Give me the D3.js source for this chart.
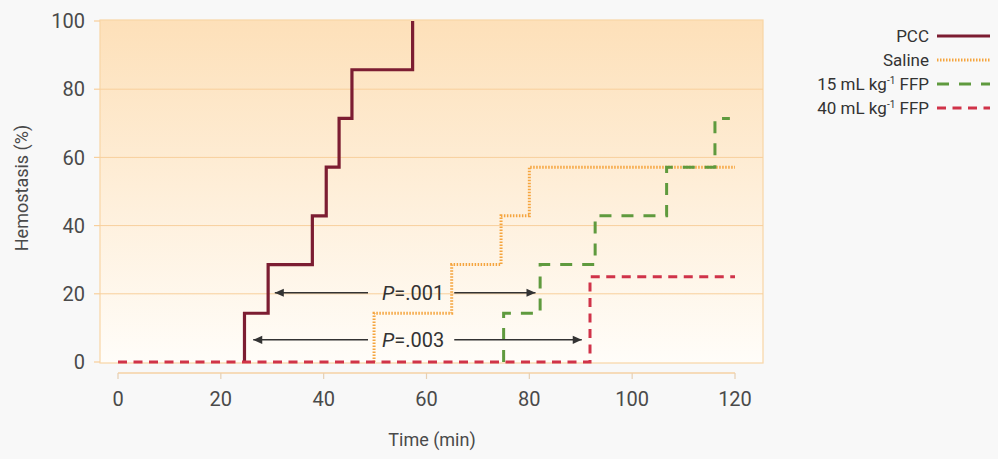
<!DOCTYPE html>
<html>
<head>
<meta charset="utf-8">
<script src="https://cdn.jsdelivr.net/npm/d3@7"></script>
<style>
	body { margin: 0; background: #f8f8f8; }
	svg { display: block; font-family: "Roboto", sans-serif; }
</style>
</head>
<body>
<svg width="998" height="459"></svg>
<script>
// step times (min) and hemostasis level (%) reached at each step
const pccTime = [24.6, 29.2, 37.8, 40.5, 43.0, 45.5, 57.3]
const pccLevel = [14.29, 28.57, 42.86, 57.14, 71.43, 85.71, 100]

const salineTime = [49.8, 64.9, 74.5, 80.0]
const salineLevel = [14.29, 28.57, 42.86, 57.14]
const salineEnd = 120

const ffp15Time = [75.0, 82.1, 92.8, 106.7, 116.1]
const ffp15Level = [14.29, 28.57, 42.86, 57.14, 71.43]
const ffp15End = 119

const ffp40Time = [91.8]
const ffp40Level = [25]
const ffp40End = 120

const xTicks = [0, 20, 40, 60, 80, 100, 120]
const yTicks = [0, 20, 40, 60, 80, 100]

// P-value arrows: label, level, left tip, right tip
const pLabels = ["=.001", "=.003"]
const pLevel = [20.3, 6.5]
const pFrom = [30.5, 26.3]
const pTo = [81.2, 90.2]
const pCenter = 57.4

const svg = d3.select("svg")

const x = d3.scaleLinear().domain([0, 120]).range([118, 735])
const y = d3.scaleLinear().domain([0, 100]).range([362, 21])

const defs = svg.append("defs")
const grad = defs.append("linearGradient")
	.attr("id", "bg").attr("x1", 0).attr("y1", 0).attr("x2", 0).attr("y2", 1)
grad.append("stop").attr("offset", "0%").attr("stop-color", "#fde0b9")
grad.append("stop").attr("offset", "100%").attr("stop-color", "#fffdf9")

defs.append("marker")
	.attr("id", "arrowhead")
	.attr("viewBox", "0 -5 10 10")
	.attr("refX", 10)
	.attr("refY", 0)
	.attr("orient", "auto-start-reverse")
	.attr("markerUnits", "userSpaceOnUse")
	.attr("markerWidth", 11)
	.attr("markerHeight", 9)
	.append("path")
	.attr("d", "M0,-4.5 L10,0 L0,4.5 Z")
	.attr("fill", "#333")

// panel
svg.append("rect")
	.attr("x", 100).attr("y", y(100) - 1)
	.attr("width", 663).attr("height", y(0) - y(100) + 2)
	.attr("fill", "url(#bg)")
	.attr("stroke", "#f9d6a6")
	.attr("stroke-width", 1.2)

// grid + y ticks
svg.append("g").selectAll("line")
	.data(yTicks.filter(d => d > 0 && d < 100))
	.join("line")
	.attr("x1", 100).attr("x2", 763)
	.attr("y1", d => y(d)).attr("y2", d => y(d))
	.attr("stroke", "#f8cf9c").attr("stroke-width", 1)

svg.append("g").selectAll("line")
	.data(yTicks)
	.join("line")
	.attr("x1", 94).attr("x2", 100)
	.attr("y1", d => y(d)).attr("y2", d => y(d))
	.attr("stroke", "#f8cf9c").attr("stroke-width", 1.2)

svg.append("g").selectAll("text")
	.data(yTicks)
	.join("text")
	.attr("x", 85).attr("y", d => y(d))
	.attr("dy", "0.36em")
	.attr("text-anchor", "end")
	.attr("font-size", 20)
	.attr("fill", "#4a4a4a")
	.text(d => d)

// x axis
const xAxisY = 373
svg.append("line")
	.attr("x1", x(0)).attr("x2", x(120))
	.attr("y1", xAxisY).attr("y2", xAxisY)
	.attr("stroke", "#f6d2a4").attr("stroke-width", 1.5)

svg.append("g").selectAll("line")
	.data(xTicks)
	.join("line")
	.attr("x1", d => x(d)).attr("x2", d => x(d))
	.attr("y1", xAxisY).attr("y2", xAxisY + 6)
	.attr("stroke", "#e6cfb3").attr("stroke-width", 1.2)

svg.append("g").selectAll("text")
	.data(xTicks)
	.join("text")
	.attr("x", d => x(d)).attr("y", 399)
	.attr("dy", "0.36em")
	.attr("text-anchor", "middle")
	.attr("font-size", 20)
	.attr("fill", "#4a4a4a")
	.text(d => d)

svg.append("text")
	.attr("x", 432).attr("y", 440)
	.attr("dy", "0.36em")
	.attr("text-anchor", "middle")
	.attr("font-size", 18)
	.attr("fill", "#4a4a4a")
	.text("Time (min)")

svg.append("text")
	.attr("transform", "translate(22,188) rotate(-90)")
	.attr("dy", "0.36em")
	.attr("text-anchor", "middle")
	.attr("font-size", 18)
	.attr("fill", "#4a4a4a")
	.text("Hemostasis (%)")

// step curves
function stepPoints(times, levels, start, end) {
	const pts = [[start, 0]]
	times.forEach((t, i) => {
		if (i === 0) pts.push([t, 0])
		pts.push([t, levels[i]])
	})
	if (end != null) pts.push([end, levels[levels.length - 1]])
	return pts
}

const line = d3.line()
	.x(d => x(d[0]))
	.y(d => y(d[1]))
	.curve(d3.curveStepAfter)

const series = [
	{ name: "PCC", pts: stepPoints(pccTime, pccLevel, pccTime[0], null), color: "#7c1d32", dash: null, width: 3.2 },
	{ name: "Saline", pts: stepPoints(salineTime, salineLevel, salineTime[0], salineEnd), color: "#f5a53f", dash: "1.5,1.5", width: 3 },
	{ name: "15", pts: stepPoints(ffp15Time, ffp15Level, ffp15Time[0], ffp15End), color: "#5f9a3e", dash: "12,10", width: 3 },
	{ name: "40", pts: stepPoints(ffp40Time, ffp40Level, 0, ffp40End), color: "#d03349", dash: "9,6.5", width: 3 },
]

svg.append("g").selectAll("path")
	.data(series)
	.join("path")
	.attr("d", d => line(d.pts))
	.attr("fill", "none")
	.attr("stroke", d => d.color)
	.attr("stroke-width", d => d.width)
	.attr("stroke-dasharray", d => d.dash)
	.attr("stroke-linejoin", "miter")

// P-value annotations
pLabels.forEach((lab, i) => {
	const t = svg.append("text")
		.attr("x", x(pCenter)).attr("y", y(pLevel[i]))
		.attr("dy", "0.36em")
		.attr("text-anchor", "middle")
		.attr("font-size", 20)
		.attr("fill", "#333")
	t.append("tspan").attr("font-style", "italic").text("P")
	t.append("tspan").text(lab)
	const bb = t.node().getBBox()
	svg.append("line")
		.attr("x1", bb.x - 14).attr("x2", x(pFrom[i]))
		.attr("y1", y(pLevel[i])).attr("y2", y(pLevel[i]))
		.attr("stroke", "#333").attr("stroke-width", 1.5)
		.attr("marker-end", "url(#arrowhead)")
	svg.append("line")
		.attr("x1", bb.x + bb.width + 10).attr("x2", x(pTo[i]))
		.attr("y1", y(pLevel[i])).attr("y2", y(pLevel[i]))
		.attr("stroke", "#333").attr("stroke-width", 1.5)
		.attr("marker-end", "url(#arrowhead)")
})

// legend
const legendY = [36, 60, 84, 108]
const legend = svg.append("g")
series.forEach((s, i) => {
	const row = legend.append("g").attr("transform", `translate(0,${legendY[i]})`)
	row.append("line")
		.attr("x1", 937).attr("x2", 990)
		.attr("stroke", s.color)
		.attr("stroke-width", s.width)
		.attr("stroke-dasharray", s.dash)
	const t = row.append("text")
		.attr("x", 929)
		.attr("dy", "0.36em")
		.attr("text-anchor", "end")
		.attr("font-size", 17)
		.attr("fill", "#333")
	if (s.name === "PCC" || s.name === "Saline") {
		t.text(s.name)
	} else {
		t.append("tspan").text(s.name + " mL kg")
		t.append("tspan").attr("font-size", 10).attr("dy", -6).text("-1")
		t.append("tspan").attr("dy", 6).text(" FFP")
	}
})
</script>
</body>
</html>
